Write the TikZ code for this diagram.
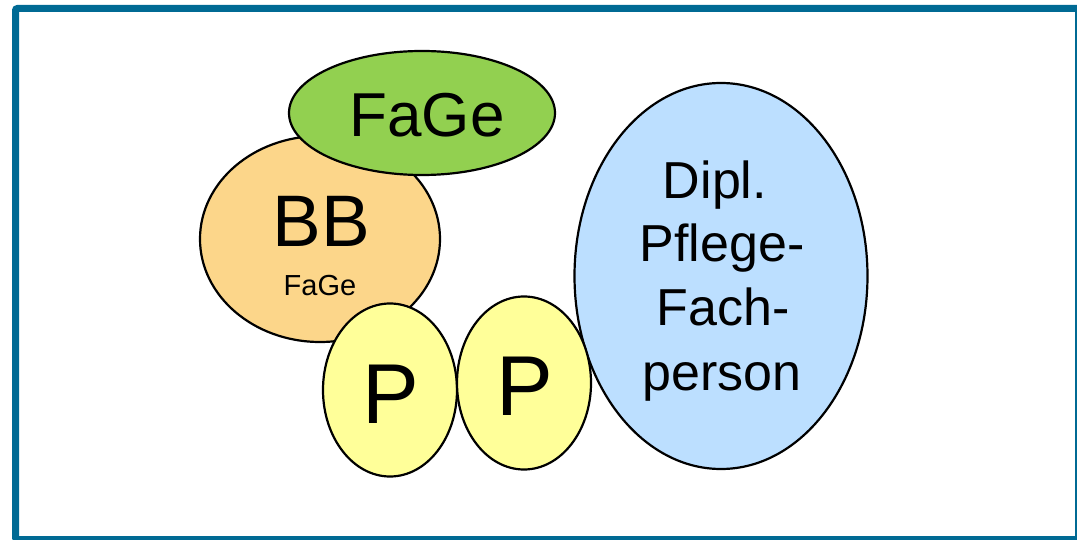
\documentclass[tikz,border=0pt]{standalone}
\usepackage{fontspec}
\setmainfont{Liberation Sans}
\usetikzlibrary{shapes.geometric}
\definecolor{frameblue}{RGB}{0,106,148}
\definecolor{fagegreen}{RGB}{146,208,80}
\definecolor{bborange}{RGB}{252,214,138}
\definecolor{pyellow}{RGB}{255,255,153}
\definecolor{diplblue}{RGB}{188,223,255}

\begin{document}
\begin{tikzpicture}[x=1pt,y=-1pt,
    blob/.style={draw=black,line width=2.2pt,ellipse,inner sep=0pt},
    lbl/.style={anchor=base,inner sep=0pt}]
    \useasboundingbox (0,0) rectangle (1077,540);
    %outer frame
    \draw[frameblue,line width=7pt,rounded corners=2pt] (15.5,8.5) rectangle (1078.5,539.5);
    %the ellipses, back to front
    \node[blob,fill=diplblue,minimum width=293pt,minimum height=386pt] (dipl) at (721,276) {};
    \node[blob,fill=bborange,minimum width=240pt,minimum height=206pt] (bb) at (320,239) {};
    \node[blob,fill=fagegreen,minimum width=266pt,minimum height=124pt] (fage) at (422,113) {};
    \node[blob,fill=pyellow,minimum width=134pt,minimum height=173pt] (pa) at (390,390) {};
    \node[blob,fill=pyellow,minimum width=134pt,minimum height=173pt] (pb) at (524,383) {};
    %labels
    \node[lbl,font=\fontsize{62}{74}\selectfont] (fagetxt) at (427,137) {FaGe};
    \node[lbl,font=\fontsize{73}{88}\selectfont] (bbtxt) at (321,247) {BB};
    \node[lbl,font=\fontsize{29}{35}\selectfont] (bbsub) at (320,295) {FaGe};
    \node[lbl,font=\fontsize{85}{102}\selectfont] (patxt) at (391,423) {P};
    \node[lbl,font=\fontsize{85}{102}\selectfont] (pbtxt) at (525,415) {P};
    \node[lbl,font=\fontsize{52}{62}\selectfont] (dipla) at (715,199) {Dipl.};
    \node[lbl,font=\fontsize{52}{62}\selectfont] (diplb) at (722,262) {Pflege-};
    \node[lbl,font=\fontsize{52}{62}\selectfont] (diplc) at (723,325) {Fach-};
    \node[lbl,font=\fontsize{52}{62}\selectfont] (dipld) at (722,390) {person};
\end{tikzpicture}
\end{document}
